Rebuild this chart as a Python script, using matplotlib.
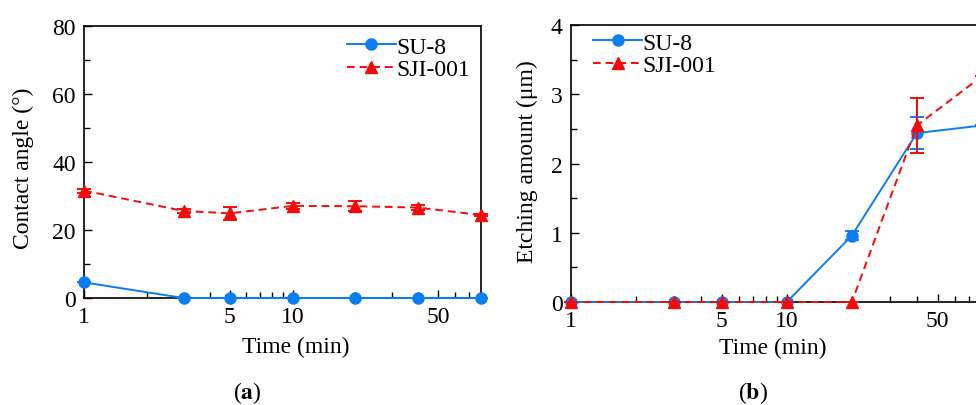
import matplotlib
matplotlib.use("Agg")
import matplotlib.pyplot as plt
from matplotlib.lines import Line2D
from matplotlib.ticker import FixedLocator, FixedFormatter, MultipleLocator

plt.rcParams['font.family'] = ['Liberation Serif', 'DejaVu Serif']
plt.rcParams['mathtext.fontset'] = 'stix'

# data
time_min = [1, 3, 5, 10, 20, 40, 80]

# (a) contact angle
angle_su8 = [4.6, 0, 0, 0, 0, 0, 0]
angle_su8_err = [0, 0, 0, 0, 0, 0, 0]
angle_sji = [31.6, 25.6, 24.9, 27.1, 27.0, 26.6, 24.4]
angle_sji_err = [0.6, 0.5, 2.0, 0.8, 1.5, 0.8, 0.4]

# (b) etching amount
etch_su8 = [0, 0, 0, 0, 0.96, 2.44, 2.55]
etch_su8_err = [0, 0, 0, 0, 0.06, 0.23, 0]
etch_sji = [0, 0, 0, 0, 0, 2.55, 3.26]
etch_sji_err = [0, 0, 0, 0, 0, 0.40, 0]

major_x = [1, 5, 10, 50]
major_x_labels = ['1', '5', '10', '50']
minor_x = [2, 3, 4, 6, 7, 8, 9, 20, 30, 40, 60, 70, 80]

BLUE = '#0A7EF0'
RED = '#F50A0A'
FS = 17
DASH = (0, (4, 2.5))

fig = plt.figure(figsize=(9.76, 4.06), dpi=100)
ax_a = fig.add_axes([0.0861, 0.2635, 0.4068, 0.670])
ax_b = fig.add_axes([0.585, 0.2537, 0.421, 0.682])


def draw(ax, y1, e1, y2, e2):
    ax.errorbar(time_min, y1, yerr=e1, color=BLUE, marker='o', ms=8, lw=1.4,
                capsize=5, elinewidth=1.4, capthick=1.4,
                clip_on=False, zorder=3)
    ax.errorbar(time_min, y2, yerr=e2, color=RED, marker='^', ms=8.5, lw=1.4,
                ls=DASH, capsize=5, elinewidth=1.4, capthick=1.4,
                clip_on=False, zorder=4)
    ax.set_xscale('log')
    ax.set_xlim(1, 80)
    ax.xaxis.set_major_locator(FixedLocator(major_x))
    ax.xaxis.set_major_formatter(FixedFormatter(major_x_labels))
    ax.xaxis.set_minor_locator(FixedLocator(minor_x))
    ax.xaxis.set_minor_formatter(FixedFormatter([''] * len(minor_x)))
    ax.tick_params(which='both', direction='in', labelsize=FS, width=1.0,
                   pad=6, top=False, right=False)
    ax.tick_params(which='major', length=6)
    ax.tick_params(which='minor', length=4)
    for sp in ax.spines.values():
        sp.set_linewidth(1.2)
    ax.set_xlabel('Time (min)', fontsize=FS)


def legend(ax, loc, anchor):
    handles = [Line2D([], [], color=BLUE, marker='o', ms=8, lw=1.4),
               Line2D([], [], color=RED, marker='^', ms=8.5, lw=1.4, ls=DASH)]
    ax.legend(handles, ['SU-8', 'SJI-001'], loc=loc, bbox_to_anchor=anchor,
              frameon=False, fontsize=FS, handlelength=2.1, borderpad=0.0,
              handletextpad=0.0, labelspacing=0.05, borderaxespad=0.0)


draw(ax_a, angle_su8, angle_su8_err, angle_sji, angle_sji_err)
ax_a.set_ylim(0, 80)
ax_a.yaxis.set_major_locator(MultipleLocator(20))
ax_a.yaxis.set_minor_locator(MultipleLocator(10))
ax_a.set_ylabel('Contact angle (°)', fontsize=FS)
ax_a.yaxis.set_label_coords(-0.125, 0.48)
ax_a.xaxis.set_label_coords(0.534, -0.14)
legend(ax_a, 'upper right', (0.972, 0.963))

draw(ax_b, etch_su8, etch_su8_err, etch_sji, etch_sji_err)
ax_b.set_ylim(0, 4)
ax_b.yaxis.set_major_locator(MultipleLocator(1))
ax_b.yaxis.set_minor_locator(MultipleLocator(0.5))
ax_b.set_ylabel('Etching amount (μm)', fontsize=FS)
ax_b.yaxis.set_label_coords(-0.08, 0.51)
ax_b.xaxis.set_label_coords(0.49, -0.125)
legend(ax_b, 'upper left', (0.053, 0.975))

fig.text(0.253, 0.032, r'($\mathbf{a}$)', fontsize=FS, ha='center', va='center')
fig.text(0.771, 0.032, r'($\mathbf{b}$)', fontsize=FS, ha='center', va='center')

fig.savefig('out.png', dpi=100)
